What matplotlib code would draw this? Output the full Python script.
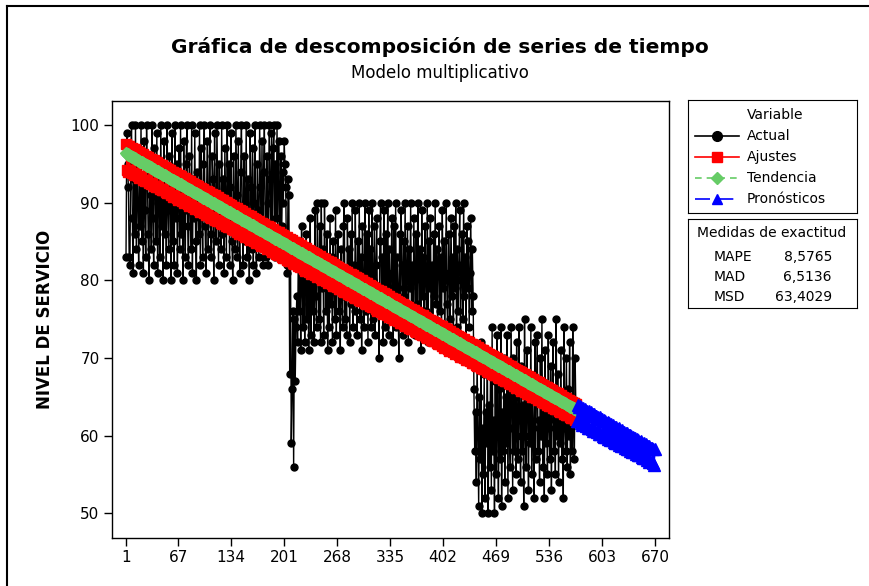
import matplotlib
matplotlib.use("Agg")
import matplotlib.pyplot as plt
import numpy as np
from matplotlib.lines import Line2D

plt.rcParams['font.family'] = ['DejaVu Sans']

# ---------------- data ----------------
title = "Gráfica de descomposición de series de tiempo"
subtitle = "Modelo multiplicativo"
ylabel = "NIVEL DE SERVICIO"
xtick_labels = [1, 67, 134, 201, 268, 335, 402, 469, 536, 603, 670]
ytick_labels = [50, 60, 70, 80, 90, 100]

actual = [
    # t 1-207
    83, 99, 95, 92, 83, 82, 96, 100, 88, 81, 93, 86, 100, 84, 97, 90, 82, 95, 87, 100,
    85, 92, 81, 98, 89, 83, 100, 94, 86, 80, 96, 91, 84, 100, 88, 82, 97, 93, 85, 99,
    81, 90, 95, 83, 100, 87, 92, 80, 98, 86, 94, 82, 100, 89, 84, 96, 91, 80, 99, 85,
    93, 82, 100, 88, 95, 81, 90, 97, 84, 100, 86, 92, 80, 98, 89, 83, 95, 100, 87, 82,
    96, 90, 84, 100, 81, 93, 88, 99, 85, 80, 94, 91, 86, 100, 82, 97, 89, 83, 95, 100,
    87, 81, 92, 98, 84, 90, 100, 86, 83, 96, 93, 80, 99, 88, 85, 100, 91, 82, 95, 89,
    84, 100, 86, 93, 81, 97, 90, 83, 100, 88, 95, 82, 92, 99, 85, 80, 96, 89, 84, 100,
    91, 83, 98, 86, 81, 94, 100, 88, 82, 96, 90, 85, 100, 83, 93, 87, 80, 99, 92, 84,
    97, 82, 90, 100, 86, 81, 95, 89, 83, 100, 92, 85, 98, 82, 94, 100, 87, 83, 96, 90,
    82, 100, 93, 86, 99, 84, 97, 100, 83, 95, 88, 100, 85, 98, 92, 83, 96, 87, 94, 90,
    98, 95, 92, 82, 81, 93, 91,
    # t 208-216
    68, 85, 59, 66, 76, 56, 75, 67, 74,
    # t 217-440
    78, 72, 85, 76, 82, 71, 87, 79, 74, 84, 72, 80, 86, 75, 83, 71, 77, 88, 73, 81,
    76, 84, 72, 89, 78, 74, 90, 81, 75, 87, 72, 90, 79, 84, 73, 90, 82, 76, 86, 71,
    80, 74, 88, 77, 83, 72, 85, 79, 75, 89, 73, 82, 86, 76, 80, 71, 84, 78, 74, 87,
    90, 75, 81, 73, 88, 79, 84, 72, 86, 77, 90, 74, 82, 76, 89, 80, 73, 85, 78, 90,
    75, 83, 71, 87, 79, 74, 90, 81, 76, 86, 72, 89, 78, 84, 74, 90, 80, 75, 87, 73,
    82, 88, 76, 79, 70, 85, 90, 77, 83, 72, 89, 80, 74, 86, 78, 90, 73, 84, 79, 75,
    88, 81, 72, 87, 77, 90, 74, 83, 79, 70, 86, 76, 89, 82, 73, 85, 78, 90, 75, 81,
    87, 72, 84, 79, 90, 76, 82, 74, 88, 80, 73, 86, 77, 90, 81, 75, 84, 71, 89, 78,
    83, 74, 87, 80, 76, 90, 72, 85, 79, 88, 75, 82, 73, 86, 78, 90, 77, 84, 74, 81,
    87, 76, 83, 72, 89, 79, 85, 74, 80, 90, 77, 73, 86, 81, 75, 88, 78, 83, 72, 87,
    79, 90, 74, 84, 76, 82, 89, 73, 80, 86, 75, 90, 78, 83, 72, 87, 79, 85, 74, 81,
    88, 76, 84, 78,
    # t 441-570
    66, 58, 63, 54, 70, 60, 51, 65, 57, 72, 50, 61, 55, 68, 52, 63, 59, 71, 50, 64,
    56, 69, 53, 74, 58, 62, 50, 67, 55, 73, 60, 52, 66, 57, 74, 51, 63, 58, 70, 54,
    65, 59, 73, 52, 68, 61, 56, 74, 63, 53, 70, 58, 65, 55, 72, 60, 57, 74, 62, 54,
    69, 58, 64, 51, 75, 60, 56, 71, 63, 53, 68, 59, 74, 55, 66, 61, 52, 72, 57, 65,
    73, 58, 62, 54, 70, 60, 75, 56, 64, 52, 71, 59, 66, 55, 73, 61, 57, 69, 53, 64,
    72, 58, 62, 55, 75, 60, 68, 54, 65, 59, 71, 57, 63, 52, 74, 61, 58, 70, 56, 66,
    60, 72, 55, 65, 58, 74, 62, 57, 70, 63,
]

# fitted trend line and seasonal indices
trend_intercept = 96.40
trend_slope = -0.0580
seasonal_index = [1.012, 0.978, 1.011, 0.977, 1.012, 0.979, 1.010]
n_forecast = 100

legend_title = "Variable"
legend_labels = ["Actual", "Ajustes", "Tendencia", "Pronósticos"]
accuracy_title = "Medidas de exactitud"
accuracy_names = ["MAPE", "MAD", "MSD"]
accuracy_values = ["8,5765", "6,5136", "63,4029"]

# ---------------- model series ----------------
n = len(actual)
t = np.arange(1, n + 1)
season = np.array(seasonal_index)
trend = trend_intercept + trend_slope * t
fits = trend * season[(t - 1) % len(season)]
tf = np.arange(n + 1, n + n_forecast + 1)
forecast = (trend_intercept + trend_slope * tf) * season[(tf - 1) % len(season)]

# ---------------- figure ----------------
W, H = 869, 586
fig = plt.figure(figsize=(W / 100, H / 100), dpi=100)

def fx(px):
    return px / W

def fy(py):
    return 1 - py / H

ax = fig.add_axes([fx(112), fy(538), fx(669) - fx(112), fy(101) - fy(538)])

ax.plot(t, actual, color='black', lw=1.0, marker='o', ms=5, zorder=2)
ax.plot(t, fits, color='red', lw=0.8, marker='s', ms=6.5, mec='red', zorder=3)
ax.plot(t, trend, color='#66cc66', lw=1.0, ls='--', marker='D', ms=6.5,
        mec='#66cc66', mfc='#66cc66', zorder=4)
ax.plot(tf, forecast, color='blue', lw=1.0, ls='-', marker='^', ms=8,
        mec='blue', mfc='blue', zorder=5)

ax.set_xlim(-16.7, 687.7)
ax.set_ylim(46.82, 103.09)
ax.set_xticks(xtick_labels)
ax.set_xticklabels([str(v) for v in xtick_labels])
ax.set_yticks(ytick_labels)
ax.tick_params(direction='out', length=6, width=1, labelsize=11, pad=3)
for s in ax.spines.values():
    s.set_linewidth(1.0)

fig.text(fx(45), fy(319), ylabel, rotation=90, ha='center', va='center',
         fontsize=12, fontweight='bold')
fig.text(fx(440), fy(47), title, ha='center', va='center', fontsize=14.5,
         fontweight='bold')
fig.text(fx(440), fy(73), subtitle, ha='center', va='center', fontsize=12)

# legend box
lax = fig.add_axes([fx(688), fy(213), fx(857) - fx(688), fy(100) - fy(213)])
lax.set_xlim(0, 169)
lax.set_ylim(113, 0)
lax.set_xticks([])
lax.set_yticks([])
lax.patch.set_alpha(0)
lax.text(87, 15, legend_title, ha='center', va='center', fontsize=10)
styles = [
    dict(color='black', ls='-', marker='o', ms=7),
    dict(color='red', ls='-', marker='s', ms=7),
    dict(color='#66cc66', ls=(0, (4, 3)), marker='D', ms=6.5),
    dict(color='blue', ls=(0, (9, 5)), marker='^', ms=7.5),
]
ys = [36, 57, 78, 99]
for lab, st, yy in zip(legend_labels, styles, ys):
    lax.plot([7, 51], [yy, yy], color=st['color'], ls=st['ls'], lw=1.2)
    lax.plot([29], [yy], color=st['color'], marker=st['marker'], ms=st['ms'],
             ls='none')
    lax.text(59, yy, lab, ha='left', va='center', fontsize=10)

# accuracy box
aax = fig.add_axes([fx(688), fy(308), fx(857) - fx(688), fy(219) - fy(308)])
aax.set_xlim(0, 169)
aax.set_ylim(89, 0)
aax.set_xticks([])
aax.set_yticks([])
aax.patch.set_alpha(0)
aax.text(84, 14, accuracy_title, ha='center', va='center', fontsize=10)
for i, (nm, val) in enumerate(zip(accuracy_names, accuracy_values)):
    yy = 38 + 20 * i
    aax.text(26, yy, nm, ha='left', va='center', fontsize=10)
    aax.text(144, yy, val, ha='right', va='center', fontsize=10)

# outer frame lines
fig.add_artist(Line2D([fx(7), fx(7)], [0, fy(6)], transform=fig.transFigure,
                      color='black', lw=1.5))
fig.add_artist(Line2D([fx(7), 1], [fy(6), fy(6)], transform=fig.transFigure,
                      color='black', lw=1.5))

fig.savefig("out.png", dpi=100)
